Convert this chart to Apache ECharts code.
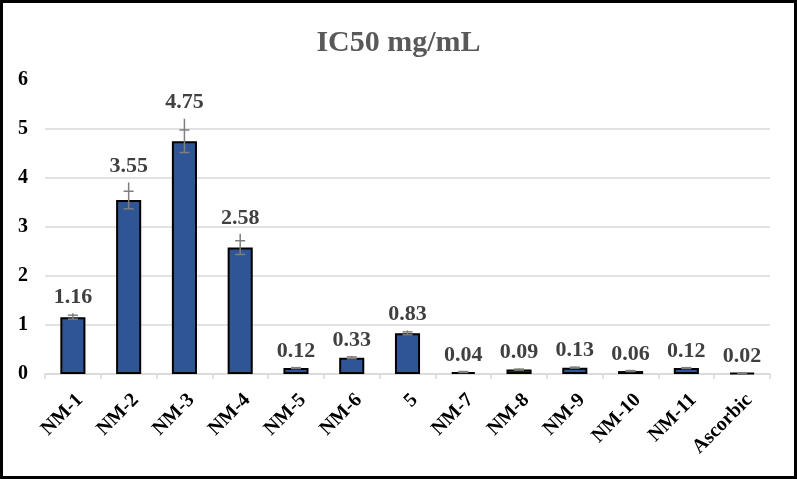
<!DOCTYPE html>
<html>
<head>
<meta charset="utf-8">
<script src="https://cdn.jsdelivr.net/npm/echarts@6/dist/echarts.min.js"></script>
<style>
html,body{margin:0;padding:0;background:#fff;}
#box{width:797px;height:479px;box-sizing:border-box;border:3px solid #000;}
#chart{width:791px;height:473px;}
</style>
</head>
<body>
<div id="box"><div id="chart"></div></div>
<script>
var categories = ['NM-1','NM-2','NM-3','NM-4','NM-5','NM-6','5','NM-7','NM-8','NM-9','NM-10','NM-11','Ascorbic'];
var ic50 = [1.16, 3.55, 4.75, 2.58, 0.12, 0.33, 0.83, 0.04, 0.09, 0.13, 0.06, 0.12, 0.02];
var errors = [0.04, 0.18, 0.23, 0.14, 0.01, 0.02, 0.03, 0.01, 0.01, 0.01, 0.01, 0.01, 0.005];
var yTicks = [0, 1, 2, 3, 4, 5, 6];

var serif = '"Liberation Serif","DejaVu Serif",serif';
var pxPerUnit = 294 / 6;

var chart = echarts.init(document.getElementById('chart'));

// no gridline at the top value
var gridColors = yTicks.map(function (t, i) {
    return i === yTicks.length - 1 ? 'rgba(0,0,0,0)' : '#d9d9d9';
});

chart.setOption({
    animation: false,
    title: {
        text: 'IC50 mg/mL',
        left: 'center',
        top: 20,
        textStyle: {fontFamily: serif, fontSize: 30, fontWeight: 'bold', color: '#595959'}
    },
    grid: {left: 42, right: 24, top: 77, bottom: 102},
    xAxis: {
        type: 'category',
        data: categories,
        axisLine: {lineStyle: {color: '#d9d9d9', width: 1.5}},
        axisTick: {show: true, length: 5, lineStyle: {color: '#d9d9d9', width: 1.5}},
        axisLabel: {
            rotate: 45, margin: 16, interval: 0, verticalAlign: 'top',
            fontFamily: serif, fontSize: 20, fontWeight: 'bold', color: '#000'
        }
    },
    yAxis: {
        type: 'value',
        min: 0, max: 6, interval: 1,
        axisLine: {show: false},
        axisTick: {show: false},
        axisLabel: {margin: 17, fontFamily: serif, fontSize: 20, fontWeight: 'bold', color: '#000'},
        splitLine: {lineStyle: {color: gridColors, width: 1.5}}
    },
    series: [
        {
            type: 'bar',
            barWidth: '45%',
            data: ic50.map(function (v, i) {
                return {
                    value: v,
                    label: {distance: 5 + 2 * errors[i] * pxPerUnit}
                };
            }),
            itemStyle: {color: '#2f5597', borderColor: '#000', borderWidth: 2},
            label: {
                show: true, position: 'top',
                fontFamily: serif, fontSize: 22, fontWeight: 'bold', color: '#404040',
                formatter: function (p) { return p.value.toFixed(2); }
            }
        },
        {
            type: 'custom',
            data: ic50.map(function (v, i) { return [i, v, errors[i]]; }),
            z: 5,
            renderItem: function (params, api) {
                var i = api.value(0), v = api.value(1), e = api.value(2);
                var lo = api.coord([i, v - e]);
                var hi = api.coord([i, v + e]);
                var top = api.coord([i, v + 2 * e]);
                var w = 5;
                var st = {stroke: '#7f7f7f', lineWidth: 1.5};
                return {
                    type: 'group',
                    children: [
                        {type: 'line', shape: {x1: lo[0], y1: lo[1], x2: top[0], y2: top[1]}, style: st},
                        {type: 'line', shape: {x1: lo[0] - w, y1: lo[1], x2: lo[0] + w, y2: lo[1]}, style: st},
                        {type: 'line', shape: {x1: hi[0] - w, y1: hi[1], x2: hi[0] + w, y2: hi[1]}, style: st}
                    ]
                };
            }
        }
    ]
});
</script>
</body>
</html>
